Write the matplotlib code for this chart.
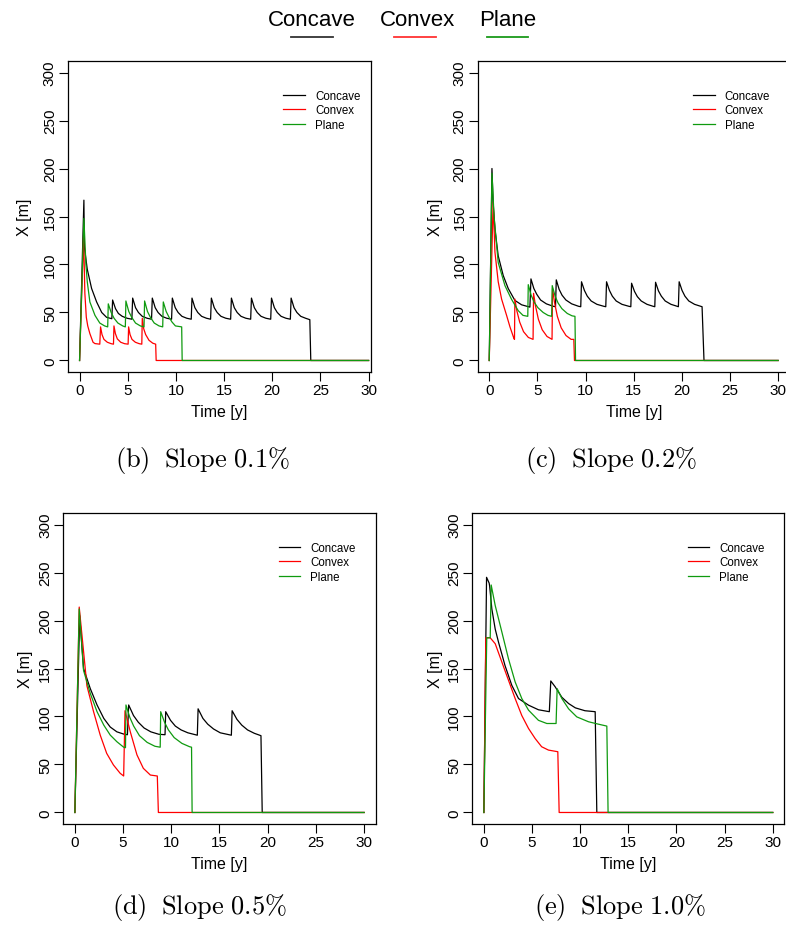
import matplotlib
matplotlib.use('Agg')
import matplotlib.pyplot as plt
from matplotlib.lines import Line2D

plt.rcParams['font.family'] = ['Liberation Sans', 'DejaVu Sans']
plt.rcParams['mathtext.fontset'] = 'cm'

# ---- data: (time [y], X [m]) ----
b_concave = [(0, 0), (0.45, 167), (0.5, 118), (0.8, 95), (1.25, 75), (1.77, 61), (2.3, 50), (2.8, 45), (3.35, 43.5),
             (3.43, 63), (3.73, 54), (4.03, 49), (4.43, 46), (4.93, 44), (5.43, 43),
             (5.51, 65), (5.81, 55), (6.11, 50), (6.51, 46), (7.01, 44), (7.47, 43),
             (7.55, 65), (7.85, 55), (8.15, 50), (8.55, 46), (9.05, 44), (9.55, 43),
             (9.63, 65), (9.93, 55), (10.23, 50), (10.63, 46), (11.13, 44), (11.59, 43),
             (11.67, 65), (11.97, 55), (12.27, 50), (12.67, 46), (13.17, 44), (13.6, 43),
             (13.68, 65), (13.98, 55), (14.28, 50), (14.68, 46), (15.18, 44), (15.68, 43),
             (15.76, 65), (16.06, 55), (16.36, 50), (16.76, 46), (17.26, 44), (17.76, 43),
             (17.84, 65), (18.14, 55), (18.44, 50), (18.84, 46), (19.34, 44), (19.84, 43),
             (19.92, 65), (20.22, 55), (20.52, 50), (20.92, 46), (21.42, 44), (21.88, 43),
             (21.96, 65), (22.26, 55), (22.56, 50), (22.96, 46), (23.46, 44), (23.9, 42.5), (24.0, 0), (30, 0)]
b_convex = [(0, 0), (0.42, 130), (0.55, 70), (0.7, 45), (0.85, 36), (1.07, 28), (1.4, 19), (1.6, 17.6), (2.1, 17),
            (2.18, 35), (2.33, 27), (2.53, 22), (2.88, 19), (3.28, 17.5), (3.52, 17),
            (3.57, 36), (3.72, 28), (3.92, 22.5), (4.27, 19), (4.67, 17.5), (5.04, 17),
            (5.09, 35), (5.24, 27), (5.44, 22), (5.79, 19), (6.19, 17.5), (6.46, 17),
            (6.51, 44), (6.66, 33), (6.86, 27), (7.21, 21), (7.6, 18), (7.9, 17), (7.95, 0), (30, 0)]
b_plane = [(0, 0), (0.45, 148), (0.66, 100), (0.8, 82), (1.07, 61), (1.6, 47), (2.1, 39), (2.6, 36), (2.92, 35),
           (2.98, 59), (3.28, 50), (3.58, 44), (3.98, 39), (4.48, 36), (4.75, 35),
           (4.81, 62), (5.11, 51), (5.41, 45), (5.81, 39), (6.31, 36), (6.69, 35),
           (6.75, 62), (7.05, 51), (7.35, 45), (7.75, 39), (8.25, 36), (8.63, 35),
           (8.69, 61), (8.99, 51), (9.29, 45), (9.6, 40), (9.95, 36), (10.6, 35), (10.65, 0), (30, 0)]

c_concave = [(0, 0), (0.28, 200), (0.4, 165), (0.59, 137), (0.93, 109), (1.45, 88.5), (1.97, 75), (2.66, 62.6),
             (3.36, 58), (4.22, 55.6),
             (4.33, 85), (4.63, 75), (4.93, 69), (5.33, 63), (5.93, 59), (6.63, 56.5), (6.88, 56),
             (6.96, 84), (7.26, 74), (7.56, 68), (7.96, 63), (8.56, 59), (9.26, 56.5), (9.5, 56),
             (9.58, 82), (9.88, 73), (10.18, 67), (10.58, 62), (11.18, 58.5), (11.88, 56.5), (12.1, 56),
             (12.18, 82), (12.48, 73), (12.78, 67), (13.18, 62), (13.78, 58.5), (14.48, 56.5), (14.7, 56),
             (14.78, 80.5), (15.08, 72), (15.38, 66.5), (15.78, 62), (16.38, 58.5), (17.0, 56.5), (17.19, 56),
             (17.27, 81.5), (17.57, 72.5), (17.87, 67), (18.27, 62), (18.87, 58.5), (19.5, 56.5), (19.64, 56),
             (19.72, 82), (20.02, 73), (20.32, 67), (20.72, 62), (21.32, 58.5), (22.1, 56), (22.3, 0), (30, 0)]
c_convex = [(0, 0), (0.4, 165), (0.59, 113), (0.93, 82), (1.28, 64), (1.8, 47), (2.15, 35), (2.56, 23), (2.62, 22),
            (2.66, 64), (2.86, 52), (3.16, 40), (3.56, 30), (4.06, 24), (4.55, 22),
            (4.6, 70), (4.8, 57), (5.1, 43), (5.5, 32), (6.0, 25), (6.52, 22),
            (6.57, 75), (6.77, 61), (7.07, 46), (7.47, 34), (7.97, 26), (8.5, 22), (8.78, 22), (8.85, 0), (30, 0)]
c_plane = [(0, 0), (0.28, 195), (0.5, 150), (0.93, 102), (1.63, 78), (2.3, 64), (3.0, 52), (3.5, 47), (4.0, 46),
           (4.05, 79), (4.35, 68), (4.65, 61), (5.05, 55), (5.6, 50), (6.1, 47), (6.48, 46),
           (6.54, 78), (6.84, 67), (7.14, 60), (7.54, 54), (8.1, 49), (8.6, 46.5), (8.9, 46), (8.96, 0), (30, 0)]

d_concave = [(0, 0), (0.5, 205), (0.9, 150), (1.6, 129), (2.3, 112), (3.0, 98), (3.67, 89), (4.36, 84), (5.06, 81.7),
             (5.45, 81),
             (5.58, 112), (6.08, 101), (6.58, 94), (7.18, 88), (7.88, 84), (8.7, 81.5), (9.35, 81),
             (9.42, 105), (9.92, 96), (10.42, 90), (11.02, 86), (11.72, 83), (12.7, 80.5),
             (12.78, 108), (13.28, 98), (13.78, 92), (14.38, 87), (15.08, 83), (16.23, 80.5),
             (16.31, 106), (16.81, 97), (17.31, 91), (17.91, 86), (18.61, 82.5), (19.3, 80), (19.43, 0), (30, 0)]
d_convex = [(0, 0), (0.45, 214), (1.25, 132), (1.94, 105), (2.63, 80.6), (3.3, 61.6), (4.0, 49.5), (4.7, 40.8),
            (5.06, 38),
            (5.2, 106), (5.75, 84), (6.44, 60), (7.1, 46), (7.83, 39), (8.55, 38), (8.66, 0), (30, 0)]
d_plane = [(0, 0), (0.45, 212), (0.9, 148), (1.6, 124), (2.3, 105), (3.0, 91), (3.67, 80.6), (4.36, 73.7),
           (5.06, 68), (5.25, 67.5),
           (5.3, 112), (5.7, 99), (6.1, 90), (6.7, 80), (7.5, 73), (8.3, 69), (8.85, 68),
           (8.9, 105), (9.3, 94), (9.7, 86), (10.3, 78), (11.1, 72), (11.9, 68.5), (12.1, 68), (12.16, 0), (30, 0)]

e_concave = [(0, 0), (0.28, 245), (0.55, 239), (0.6, 236), (0.83, 212), (1.18, 191), (1.52, 177.5), (2.2, 153),
             (2.9, 132.5), (3.6, 118.7), (4.64, 111.8), (5.67, 107), (6.8, 105),
             (6.95, 137), (7.4, 131), (8.1, 120), (8.8, 113.5), (9.5, 109), (10.5, 106), (11.56, 105),
             (11.73, 0), (30, 0)]
e_convex = [(0, 0), (0.2, 182), (0.66, 182), (1.18, 175.8), (1.87, 156.7), (2.56, 137.7), (3.25, 118.7),
            (3.94, 101), (4.64, 87.5), (5.33, 77), (6.0, 68.5), (6.71, 65), (7.68, 63.3), (7.82, 0), (30, 0)]
e_plane = [(0, 0), (0.3, 182), (0.66, 182), (0.76, 237), (1.18, 215.6), (1.87, 188), (2.56, 160), (3.25, 136),
           (3.94, 118.7), (4.64, 106.6), (5.67, 96), (6.54, 92.7), (7.5, 92.7),
           (7.61, 129), (8.1, 118.7), (8.8, 108), (9.65, 99.6), (10.87, 94.5), (11.9, 92), (12.77, 90),
           (12.9, 0), (30, 0)]

series_names = ['Concave', 'Convex', 'Plane']
series_colors = ['#000000', '#ff0000', '#0f9a0f']
captions = ['(b)\\;\\ Slope\\ 0.1\\%', '(c)\\;\\ Slope\\ 0.2\\%', '(d)\\;\\ Slope\\ 0.5\\%', '(e)\\;\\ Slope\\ 1.0\\%']
x_ticks = [0, 5, 10, 15, 20, 25, 30]
y_ticks = [0, 50, 100, 150, 200, 250, 300]

W, H = 786, 929
fig = plt.figure(figsize=(W / 100, H / 100), dpi=100)

# pixel boxes (left, top, right, bottom), x limits, caption centre
panels = [
    ((68, 62, 371, 373), (-1.2, 30.25), [b_concave, b_convex, b_plane], (202, 461)),
    ((477.7, 62, 789.7, 373), (-1.2, 31.2), [c_concave, c_convex, c_plane], (611, 461)),
    ((63.3, 514, 375.7, 825), (-1.2, 31.2), [d_concave, d_convex, d_plane], (199, 908)),
    ((472.3, 514, 784.3, 825), (-1.2, 31.2), [e_concave, e_convex, e_plane], (620, 908)),
]

for (box, xlim, curves, cap_xy), cap in zip(panels, captions):
    l, t, r, b = box
    ax = fig.add_axes([l / W, 1 - b / H, (r - l) / W, (b - t) / H])
    for pts, name, col in zip(curves, series_names, series_colors):
        ax.plot([p[0] for p in pts], [p[1] for p in pts], color=col, lw=0.9, label=name)
    ax.set_xlim(*xlim)
    ax.set_ylim(-12, 312)
    ax.set_xticks(x_ticks)
    ax.set_yticks(y_ticks)
    ax.tick_params(direction='out', length=6.5, width=0.8, labelsize=11, pad=1.5)
    for lab in ax.get_yticklabels():
        lab.set_rotation(90)
        lab.set_va('center')
    for s in ax.spines.values():
        s.set_linewidth(0.9)
    w_px, h_px = r - l, b - t
    ax.set_xlabel('Time [y]', fontsize=11.5)
    ax.xaxis.set_label_coords(0.5, -40 / h_px)
    ax.xaxis.label.set_va('center')
    ax.set_ylabel('X [m]', fontsize=11.5)
    ax.yaxis.set_label_coords(-(l - (25 if l < 100 else 435)) / w_px, 0.5)
    ax.yaxis.label.set_va('center')
    leg_x = 0.689 * 312.4 / w_px
    ax.legend(loc='upper left', bbox_to_anchor=(leg_x, 0.907), frameon=False, fontsize=8.3,
              handlelength=1.9, handletextpad=0.85, labelspacing=0.22, borderpad=0, borderaxespad=0)
    fig.text(cap_xy[0] / W, 1 - cap_xy[1] / H, '$\\mathrm{' + cap + '}$', fontsize=19,
             ha='center', va='center')

# shared legend on top
top_legend = [(312, 291, 333, '#333333'), (417, 394, 436, '#ff3333'), (508, 487, 528, '#1a9a1a')]
for name, (cx, x0, x1, col) in zip(series_names, top_legend):
    fig.text(cx / W, 1 - 20 / H, name, fontsize=16, ha='center', va='center')
    fig.add_artist(Line2D([x0 / W, x1 / W], [1 - 38 / H, 1 - 38 / H], color=col, lw=1.3,
                          transform=fig.transFigure))

fig.savefig('out.png', dpi=100)
